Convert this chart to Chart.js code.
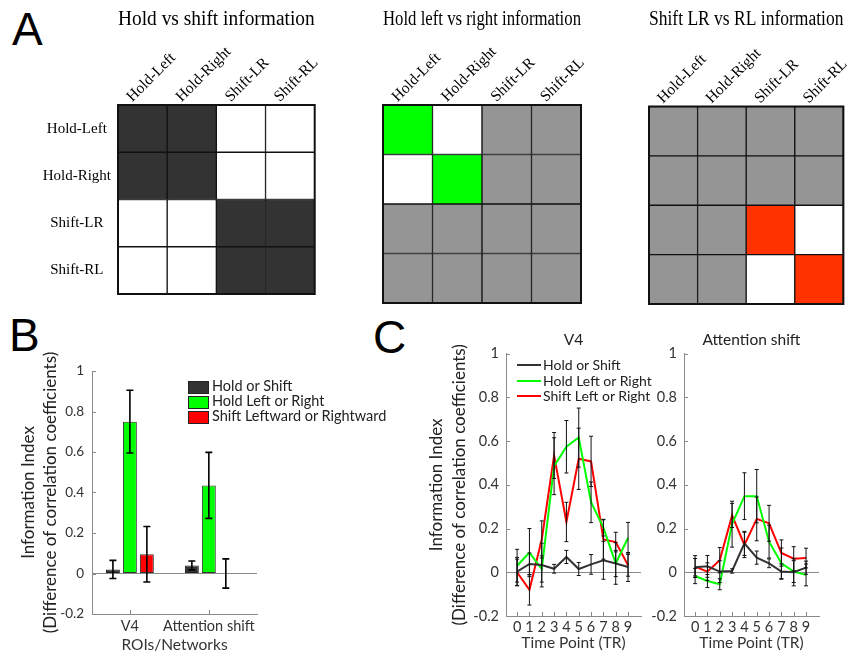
<!DOCTYPE html>
<html><head><meta charset="utf-8">
<script src="https://cdn.jsdelivr.net/npm/chart.js@4.4.1/dist/chart.umd.min.js"></script>
<style>
html,body{margin:0;padding:0;background:#fff;}
#wrap{position:relative;width:859px;height:656px;overflow:hidden;background:#fff;}
canvas{position:absolute;}
.letter{position:absolute;font-family:"Liberation Sans",Arial,sans-serif;font-size:46px;line-height:46px;color:#000;}
.legend{position:absolute;font-family:Lato,sans-serif;color:#222;}
.legend .sw{position:absolute;}
.legend .tx{position:absolute;white-space:nowrap;}
</style></head><body>
<div id="wrap">
<div class="letter" style="left:12px;top:6px">A</div>
<div class="letter" style="left:9px;top:312px">B</div>
<div class="letter" style="left:373px;top:314px">C</div>
<canvas id="a1" width="330" height="310" style="left:0;top:0"></canvas>
<canvas id="a2" width="270" height="310" style="left:330px;top:0"></canvas>
<canvas id="a3" width="259" height="310" style="left:600px;top:0"></canvas>
<canvas id="b" width="300" height="346" style="left:0;top:310px"></canvas>
<canvas id="c1" width="225" height="346" style="left:420px;top:310px"></canvas>
<canvas id="c2" width="214" height="346" style="left:645px;top:310px"></canvas>
<div id="legB" class="legend" style="left:188px;top:381px;font-size:14.5px"></div>
<div id="legC" class="legend" style="left:517px;top:357px;font-size:14px"></div>
</div>
<script>
// ---------- data ----------
const matrixLabels = ['Hold-Left', 'Hold-Right', 'Shift-LR', 'Shift-RL'];
const matrixTitles = ['Hold vs shift information', 'Hold left vs right information', 'Shift LR vs RL information'];
const holdVsShiftCells = [
  ['dark', 'dark', 'white', 'white'],
  ['dark', 'dark', 'white', 'white'],
  ['white', 'white', 'dark', 'dark'],
  ['white', 'white', 'dark', 'dark']];
const holdLeftRightCells = [
  ['green', 'white', 'gray', 'gray'],
  ['white', 'green', 'gray', 'gray'],
  ['gray', 'gray', 'gray', 'gray'],
  ['gray', 'gray', 'gray', 'gray']];
const shiftLRvsRLCells = [
  ['gray', 'gray', 'gray', 'gray'],
  ['gray', 'gray', 'gray', 'gray'],
  ['gray', 'gray', 'red', 'white'],
  ['gray', 'gray', 'white', 'red']];

const roiLabels = ['V4', 'Attention shift'];
const barSeriesNames = ['Hold or Shift', 'Hold Left or Right', 'Shift Leftward or Rightward'];
const barHoldShift = [0.02, 0.04];
const barHoldShiftErr = [0.045, 0.022];
const barHoldLR = [0.75, 0.435];
const barHoldLRErr = [0.155, 0.163];
const barShiftLR = [0.095, 0.0];
const barShiftLRErr = [0.137, 0.072];

const yTickValues = [-0.2, 0, 0.2, 0.4, 0.6, 0.8, 1];
const yTickLabels = ['-0.2', '0', '0.2', '0.4', '0.6', '0.8', '1'];

const timePoints = [0, 1, 2, 3, 4, 5, 6, 7, 8, 9];
const lineSeriesNames = ['Hold or Shift', 'Hold Left or Right', 'Shift Left or Right'];
const v4HoldShift    = [0.003, 0.038, 0.033, 0.016, 0.070, 0.015, 0.036, 0.055, 0.040, 0.024];
const v4HoldShiftErr = [0.065, 0.050, 0.100, 0.020, 0.030, 0.030, 0.045, 0.087, 0.060, 0.066];
const v4HoldLR       = [0.030, 0.090, 0.015, 0.485, 0.574, 0.616, 0.320, 0.204, 0.040, 0.158];
const v4HoldLRErr    = [0.075, 0.110, 0.060, 0.130, 0.120, 0.135, 0.093, 0.038, 0.095, 0.070];
const v4ShiftLR      = [0.000, -0.080, 0.150, 0.534, 0.230, 0.519, 0.507, 0.150, 0.138, 0.032];
const v4ShiftLRErr   = [0.060, 0.070, 0.085, 0.105, 0.090, 0.140, 0.115, 0.090, 0.045, 0.050];
const attHoldShift    = [0.023, 0.027, 0.003, 0.006, 0.132, 0.067, 0.041, 0.003, 0.000, 0.021];
const attHoldShiftErr = [0.040, 0.050, 0.050, 0.010, 0.055, 0.030, 0.020, 0.035, 0.062, 0.030];
const attHoldLR       = [-0.017, -0.040, -0.055, 0.220, 0.348, 0.348, 0.140, 0.041, 0.003, -0.012];
const attHoldLRErr    = [0.035, 0.030, 0.025, 0.105, 0.107, 0.122, 0.075, 0.070, 0.050, 0.050];
const attShiftLR      = [0.026, 0.003, 0.055, 0.260, 0.125, 0.244, 0.224, 0.088, 0.062, 0.065];
const attShiftLRErr   = [0.050, 0.040, 0.058, 0.055, 0.058, 0.100, 0.082, 0.060, 0.055, 0.045];

// ---------- styles ----------
const cellColors = {dark: '#333333', white: '#ffffff', green: '#00ff00', gray: '#959595', red: '#ff3300'};
const SANS = 'Lato, "Open Sans", sans-serif';
const SERIF = '"Liberation Serif", "Times New Roman", serif';
const AXIS = '#8a8a8a';
const TXT = '#333333';

// ---------- plugins ----------
const framePlugin = {
  id: 'frame',
  afterDatasetsDraw(chart) {
    const a = chart.chartArea, ctx = chart.ctx;
    ctx.save(); ctx.strokeStyle = '#111'; ctx.lineWidth = 2;
    ctx.strokeRect(a.left, a.top, a.right - a.left, a.bottom - a.top);
    ctx.restore();
  }
};
const errorBarPlugin = {
  id: 'errorBars',
  afterDatasetsDraw(chart, args, opts) {
    const ctx = chart.ctx, ys = chart.scales.y;
    ctx.save(); ctx.strokeStyle = opts.color || '#000'; ctx.lineWidth = opts.width || 1;
    chart.data.datasets.forEach((ds, di) => {
      if (!ds.errors) return;
      const meta = chart.getDatasetMeta(di);
      meta.data.forEach((el, i) => {
        const d = ds.data[i];
        const v = typeof d === 'object' ? d.y : d;
        const e = ds.errors[i];
        const x = el.x, yt = ys.getPixelForValue(v + e), yb = ys.getPixelForValue(v - e);
        const c = opts.cap || 3;
        ctx.beginPath();
        ctx.moveTo(x, yt); ctx.lineTo(x, yb);
        ctx.moveTo(x - c, yt); ctx.lineTo(x + c, yt);
        ctx.moveTo(x - c, yb); ctx.lineTo(x + c, yb);
        ctx.stroke();
      });
    });
    ctx.restore();
  }
};
const innerTicksPlugin = {
  id: 'innerTicks',
  afterDatasetsDraw(chart, args, opts) {
    const ctx = chart.ctx, a = chart.chartArea, xs = chart.scales.x, ys = chart.scales.y;
    const L = opts.len || 4;
    ctx.save(); ctx.strokeStyle = AXIS; ctx.lineWidth = 1;
    ctx.beginPath();
    ys.ticks.forEach(t => { const p = Math.round(ys.getPixelForValue(t.value)) + 0.5; ctx.moveTo(a.left, p); ctx.lineTo(a.left + L, p); });
    xs.ticks.forEach(t => { const p = Math.round(xs.getPixelForValue(t.value)) + 0.5; ctx.moveTo(p, a.bottom); ctx.lineTo(p, a.bottom - L); });
    ctx.stroke(); ctx.restore();
  }
};

// ---------- matrices ----------
function matrixChart(id, cells, title, showRows, pad, yW, xH) {
  const datasets = cells.map((row, r) => ({
    label: matrixLabels[r],
    data: row.map(() => 1),
    backgroundColor: row.map(c => cellColors[c]),
    borderColor: '#111', borderWidth: 1, borderSkipped: false,
    barPercentage: 1, categoryPercentage: 1
  }));
  return new Chart(document.getElementById(id), {
    type: 'bar',
    data: {labels: matrixLabels, datasets},
    plugins: [framePlugin],
    options: {
      responsive: false, animation: false, events: [],
      layout: {padding: pad},
      plugins: {
        legend: {display: false}, tooltip: {enabled: false},
        title: {display: true, text: title, fullSize: false, color: '#000',
          font: {family: SERIF, size: 20, weight: 'normal'}, padding: {top: 8, bottom: 4}}
      },
      scales: {
        x: {type: 'category', position: 'top', stacked: true,
          grid: {display: false, drawTicks: false}, border: {display: false},
          ticks: {minRotation: 45, maxRotation: 45, color: '#000', padding: -1, labelOffset: 0,
            font: {family: SERIF, size: 15.5}},
          afterFit: s => { s.height = xH; }},
        y: {type: 'linear', stacked: true, min: 0, max: 4, reverse: true,
          grid: {display: false, drawTicks: false}, border: {display: false},
          afterBuildTicks: s => { s.ticks = [0.5, 1.5, 2.5, 3.5].map(v => ({value: v})); },
          ticks: {display: showRows, crossAlign: 'center', padding: 7, color: '#000',
            font: {family: SERIF, size: 15},
            callback: v => matrixLabels[Math.floor(v)]},
          afterFit: s => { s.width = yW; }}
      }
    }
  });
}
matrixChart('a1', holdVsShiftCells, matrixTitles[0], true, {left: 0, right: 14, top: 0, bottom: 7}, 118, 69);
matrixChart('a2', holdLeftRightCells, matrixTitles[1], false, {left: 0, right: 19, top: 0, bottom: 7}, 53, 69);
matrixChart('a3', shiftLRvsRLCells, matrixTitles[2], false, {left: 0, right: 12, top: 0, bottom: 6}, 49, 70.5);

// ---------- panel B ----------
const yScaleCommon = (size, pad) => ({
  min: -0.2, max: 1,
  afterBuildTicks: s => { s.ticks = yTickValues.map(v => ({value: v})); },
  ticks: {color: TXT, padding: pad, font: {family: SANS, size: size},
    callback: (v) => yTickLabels[yTickValues.findIndex(t => Math.abs(t - v) < 1e-9)]},
  grid: {drawTicks: false, lineWidth: 1,
    color: c => (c.tick && Math.abs(c.tick.value) < 1e-9) ? AXIS : 'rgba(0,0,0,0)'},
  border: {display: true, color: AXIS, width: 1}
});

const chartB = new Chart(document.getElementById('b'), {
  type: 'bar',
  data: {datasets: [
    {label: barSeriesNames[0], data: barHoldShift.map((v, i) => ({x: i + 1, y: v})), errors: barHoldShiftErr,
      backgroundColor: '#333333', borderColor: '#222', borderWidth: 1},
    {label: barSeriesNames[1], data: barHoldLR.map((v, i) => ({x: i + 1, y: v})), errors: barHoldLRErr,
      backgroundColor: '#00ff00', borderColor: '#333', borderWidth: 1},
    {label: barSeriesNames[2], data: barShiftLR.map((v, i) => ({x: i + 1, y: v})), errors: barShiftLRErr,
      backgroundColor: '#ff0000', borderColor: '#333', borderWidth: 1}
  ]},
  plugins: [errorBarPlugin, innerTicksPlugin],
  options: {
    responsive: false, animation: false, events: [],
    layout: {padding: {left: 0, right: 43, top: 61, bottom: 0}},
    datasets: {bar: {categoryPercentage: 0.645, barPercentage: 0.82, borderSkipped: false}},
    plugins: {legend: {display: false}, tooltip: {enabled: false},
      errorBars: {cap: 3.5, width: 1.6, color: '#000'}, innerTicks: {len: 4}},
    scales: {
      x: {type: 'linear', min: 0.52, max: 2.61, offset: false,
        afterBuildTicks: s => { s.ticks = [1, 2].map(v => ({value: v})); },
        ticks: {color: TXT, padding: 4, maxRotation: 0, autoSkip: false, font: {family: SANS, size: 14.5},
          callback: v => roiLabels[Math.round(v) - 1]},
        grid: {display: false, drawTicks: false, offset: false},
        border: {display: true, color: AXIS, width: 1},
        title: {display: true, text: 'ROIs/Networks', color: TXT, font: {family: SANS, size: 15.5}, padding: {top: 0, bottom: 2}},
        afterFit: s => { s.height = 42; }},
      y: Object.assign(yScaleCommon(13.5, 8), {
        title: {display: true, text: ['Information Index', '(Difference of correlation coefficients)'], color: '#222',
          font: {family: SANS, size: 17, lineHeight: 1.3}, padding: {top: 17, bottom: 0}},
        afterFit: s => { s.width = 92; }})
    }
  }
});

// ---------- panel C ----------
function lineChart(id, title, series, errs, pad, yW, withYTitle) {
  const colors = ['#333333', '#00ff00', '#ff0000'];
  const datasets = series.map((vals, k) => ({
    label: lineSeriesNames[k],
    data: vals.map((v, i) => ({x: timePoints[i], y: v})),
    errors: errs[k],
    borderColor: colors[k], backgroundColor: colors[k], borderWidth: 2,
    pointRadius: 0, tension: 0, fill: false
  }));
  const yScale = yScaleCommon(14.5, 7);
  yScale.afterFit = s => { s.width = yW; };
  if (withYTitle) {
    yScale.title = {display: true, text: ['Information Index', '(Difference of correlation coefficients)'], color: '#222',
      font: {family: SANS, size: 17, lineHeight: 1.35}, padding: {top: 5.5, bottom: 0}};
  }
  return new Chart(document.getElementById(id), {
    type: 'line',
    data: {datasets},
    plugins: [errorBarPlugin, innerTicksPlugin],
    options: {
      responsive: false, animation: false, events: [],
      layout: {padding: pad},
      plugins: {legend: {display: false}, tooltip: {enabled: false},
        title: {display: true, text: title, fullSize: false, color: '#222',
          font: {family: SANS, size: 15.5, weight: 'normal'}, padding: {top: 21, bottom: 4}},
        errorBars: {cap: 2, width: 1, color: '#111'}, innerTicks: {len: 4}},
      scales: {
        x: {type: 'linear', min: -0.9, max: 10.05,
          afterBuildTicks: s => { s.ticks = timePoints.map(v => ({value: v})); },
          ticks: {color: TXT, padding: 3, maxRotation: 0, autoSkip: false, font: {family: SANS, size: 14.5},
            callback: v => String(v)},
          grid: {display: false, drawTicks: false},
          border: {display: true, color: AXIS, width: 1},
          title: {display: true, text: 'Time Point (TR)', color: TXT, font: {family: SANS, size: 15.5}, padding: {top: 0, bottom: 4}},
          afterFit: s => { s.height = 40; }},
        y: yScale
      }
    }
  });
}
const chartC1 = lineChart('c1', 'V4', [v4HoldShift, v4HoldLR, v4ShiftLR], [v4HoldShiftErr, v4HoldLRErr, v4ShiftLRErr],
  {left: 0, right: 4, top: 0, bottom: 0}, 86, true);
const chartC2 = lineChart('c2', 'Attention shift', [attHoldShift, attHoldLR, attShiftLR], [attHoldShiftErr, attHoldLRErr, attShiftLRErr],
  {left: 0, right: 40, top: 0, bottom: 0}, 39, false);

// ---------- HTML legends built from chart datasets ----------
(function () {
  const lb = document.getElementById('legB');
  chartB.data.datasets.forEach((ds, i) => {
    const top = i * 15;
    const sw = document.createElement('div');
    sw.className = 'sw';
    sw.style.cssText = `left:0;top:${top}px;width:19px;height:11px;background:${ds.backgroundColor};border:1px solid #222;`;
    const tx = document.createElement('div');
    tx.className = 'tx';
    tx.style.cssText = `left:24px;top:${top - 4}px;line-height:18px;`;
    tx.textContent = ds.label;
    lb.appendChild(sw); lb.appendChild(tx);
  });
  const lc = document.getElementById('legC');
  chartC1.data.datasets.forEach((ds, i) => {
    const top = i * 15.5;
    const sw = document.createElement('div');
    sw.className = 'sw';
    sw.style.cssText = `left:0;top:${top + 7}px;width:24px;height:2px;background:${ds.borderColor};`;
    const tx = document.createElement('div');
    tx.className = 'tx';
    tx.style.cssText = `left:26px;top:${top}px;line-height:16px;`;
    tx.textContent = ds.label;
    lc.appendChild(sw); lc.appendChild(tx);
  });
})();
</script>
</body></html>
